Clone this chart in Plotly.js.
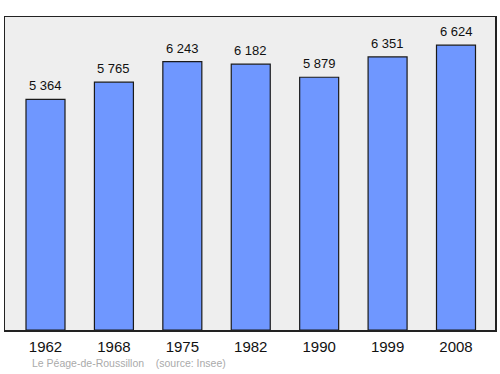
<!DOCTYPE html>
<html>
<head>
<meta charset="utf-8">
<script src="https://cdn.plot.ly/plotly-3.0.1.min.js"></script>
<style>html,body{margin:0;padding:0;background:#fff;}#chart{width:500px;height:374px;}</style>
</head>
<body>
<div id="chart"></div>
<script>
const years = ["1962", "1968", "1975", "1982", "1990", "1999", "2008"];
const population = [5364, 5765, 6243, 6182, 5879, 6351, 6624];
const valueLabels = ["5 364", "5 765", "6 243", "6 182", "5 879", "6 351", "6 624"];
const sourceText = "Le Péage-de-Roussillon    (source: Insee)";

const font = "Liberation Sans, Arial, sans-serif";

const trace = {
  type: "bar",
  x: years,
  y: population,
  width: 0.57,
  marker: {color: "#6f97ff", line: {color: "#1a1a1a", width: 1.2}},
  hoverinfo: "none"
};

const annotations = years.map((yr, i) => ({
  x: i, y: population[i], xref: "x", yref: "y",
  text: valueLabels[i], showarrow: false,
  yanchor: "bottom", yshift: 4,
  font: {family: font, size: 13, color: "#111"}
}));
annotations.push({
  xref: "paper", yref: "paper", x: 0.051, y: -0.105,
  xanchor: "left", yanchor: "middle", showarrow: false,
  text: sourceText.replace(/ {2,}/g, m => "&nbsp;".repeat(m.length)),
  font: {family: font, size: 10.5, color: "#aaaaaa"}
});

const layout = {
  width: 500, height: 374,
  margin: {l: 5, r: 5, t: 17, b: 44, pad: 0},
  paper_bgcolor: "#ffffff",
  plot_bgcolor: "#eeeeee",
  showlegend: false,
  xaxis: {
    type: "category",
    range: [-0.592, 6.57],
    showline: true, mirror: true, linecolor: "#222", linewidth: 1.5,
    showgrid: false, zeroline: false, ticks: "",
    tickfont: {family: font, size: 15, color: "#111"},
    ticklabelstandoff: 2
  },
  yaxis: {
    range: [0, 7280],
    showline: true, mirror: true, linecolor: "#222", linewidth: 1.5,
    showgrid: false, zeroline: false, showticklabels: false, ticks: ""
  },
  annotations: annotations
};

Plotly.newPlot("chart", [trace], layout, {staticPlot: true, displayModeBar: false});
</script>
</body>
</html>
